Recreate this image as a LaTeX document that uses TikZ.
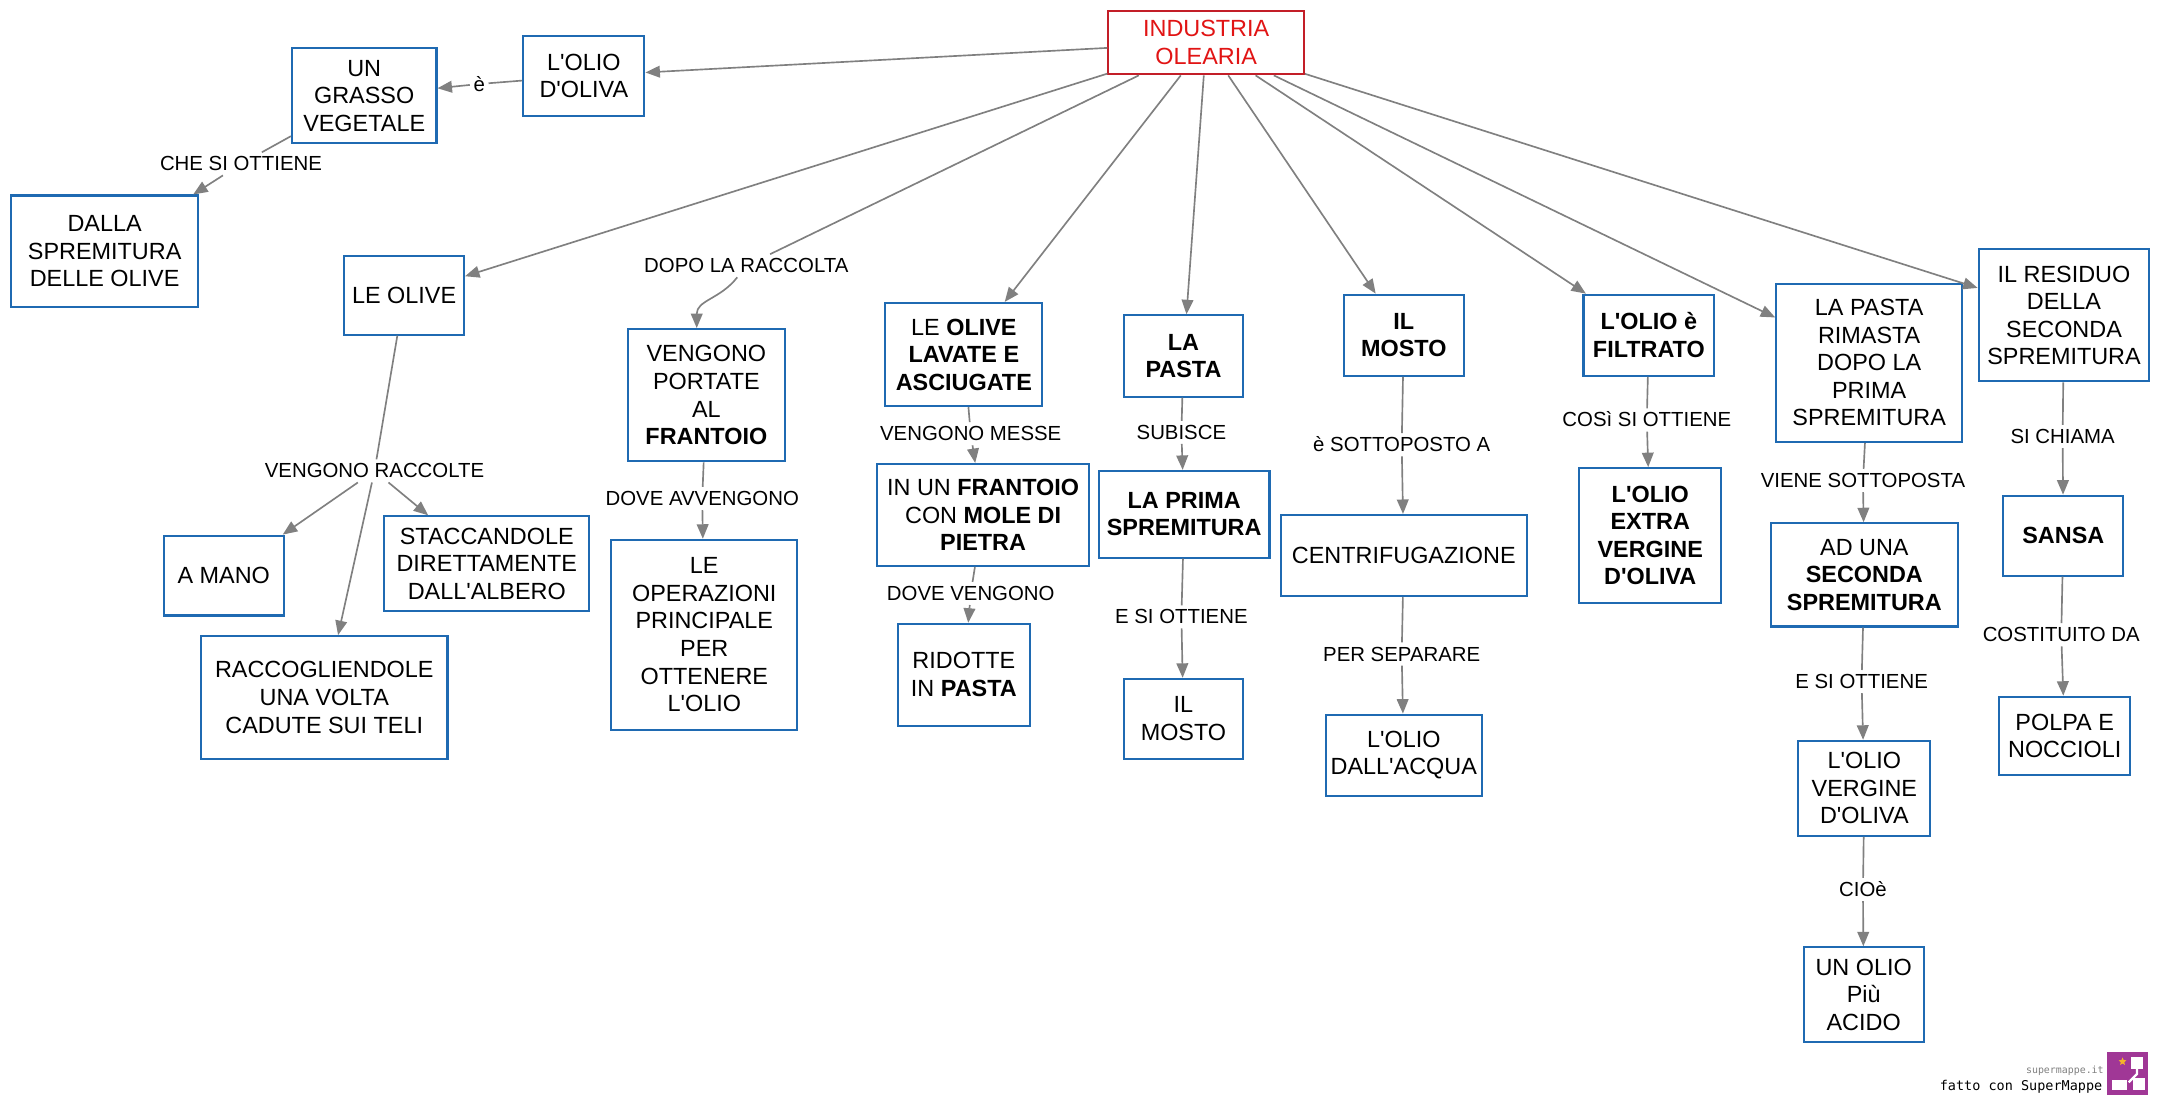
\documentclass[tikz,border=0pt]{standalone}
\usepackage{fontspec}
\setmainfont{Liberation Sans}[Ligatures=TeXOff]
\newfontfamily\smmono{DejaVu Sans Mono}
\usetikzlibrary{arrows.meta,shapes.geometric}
\definecolor{boxblue}{RGB}{31,106,178}
\definecolor{conngray}{RGB}{128,128,128}
\definecolor{indred}{RGB}{195,30,40}
\definecolor{indtext}{RGB}{225,20,20}
\definecolor{smpurple}{RGB}{160,55,150}
\definecolor{smstarc}{RGB}{245,180,40}
\begin{document}
\begin{tikzpicture}[x=1pt,y=-1pt,
  cbox/.style={draw=boxblue, line width=1.5pt, fill=white, align=center, inner sep=0pt,
               font=\fontsize{17}{20}\selectfont},
  wh/.style 2 args={minimum width=#1pt, minimum height=#2pt},
  lbl/.style={inner sep=2.5pt, font=\fontsize{14.8}{17}\selectfont, text height=10.8pt, text depth=0.6pt},
  conn/.style={draw=conngray, line width=1.2pt},
  arr/.style={conn, -{Triangle[length=10.5pt,width=8.5pt]}}
]
\fill[white] (0,0) rectangle (1568,801.8);
\useasboundingbox (0,0) rectangle (1568,801.8);

% boxes
\node[cbox, wh={142}{46}, draw=indred, text=indtext] (ind) at (876,31) {INDUSTRIA\\OLEARIA};
\node[cbox, wh={88}{58}] (oliva) at (424,55) {L'OLIO\\D'OLIVA};
\node[cbox, wh={105}{69}] (grasso) at (264.5,69.5) {UN\\GRASSO\\VEGETALE};
\node[cbox, wh={136}{81}] (dalla) at (76,182.5) {DALLA\\SPREMITURA\\DELLE OLIVE};
\node[cbox, wh={87}{57}] (olive) at (293.5,214.5) {LE OLIVE};
\node[cbox, wh={87}{58}] (amano) at (162.5,418) {A MANO};
\node[cbox, wh={149}{69}] (stacc) at (353.5,409.5) {STACCANDOLE\\DIRETTAMENTE\\DALL'ALBERO};
\node[cbox, wh={179}{89}] (racc) at (235.5,506.5) {RACCOGLIENDOLE\\UNA VOLTA\\CADUTE SUI TELI};
\node[cbox, wh={114}{96}] (portate) at (513,287) {VENGONO\\PORTATE\\AL\\\textbf{FRANTOIO}};
\node[cbox, wh={135}{138}] (operaz) at (511.5,461) {LE\\OPERAZIONI\\PRINCIPALE\\PER\\OTTENERE\\L'OLIO};
\node[cbox, wh={114}{75}] (lavate) at (700,257.5) {LE \textbf{OLIVE}\\\textbf{LAVATE E}\\\textbf{ASCIUGATE}};
\node[cbox, wh={154}{74}] (frant) at (714,374) {IN UN \textbf{FRANTOIO}\\CON \textbf{MOLE DI}\\\textbf{PIETRA}};
\node[cbox, wh={96}{74}] (ridotte) at (700,490) {RIDOTTE\\IN \textbf{PASTA}};
\node[cbox, wh={87}{59}] (pasta) at (859.5,258.5) {\textbf{LA}\\\textbf{PASTA}};
\node[cbox, wh={124}{63}] (prima) at (860,373.5) {\textbf{LA PRIMA}\\\textbf{SPREMITURA}};
\node[cbox, wh={87}{58}] (mosto2) at (859.5,522) {IL\\MOSTO};
\node[cbox, wh={87}{59}] (mosto) at (1019.5,243.5) {\textbf{IL}\\\textbf{MOSTO}};
\node[cbox, wh={179}{59}] (centr) at (1019.5,403.5) {CENTRIFUGAZIONE};
\node[cbox, wh={113}{59}] (acqua) at (1019.5,548.5) {L'OLIO\\DALL'ACQUA};
\node[cbox, wh={95}{59}] (filtr) at (1197.5,243.5) {\textbf{L'OLIO è}\\\textbf{FILTRATO}};
\node[cbox, wh={103}{98}] (extra) at (1198.5,389) {\textbf{L'OLIO}\\\textbf{EXTRA}\\\textbf{VERGINE}\\\textbf{D'OLIVA}};
\node[cbox, wh={135}{115}] (rimasta) at (1357.5,263.5) {LA PASTA\\RIMASTA\\DOPO LA\\PRIMA\\SPREMITURA};
\node[cbox, wh={136}{75}] (seconda) at (1354,417.5) {AD UNA\\\textbf{SECONDA}\\\textbf{SPREMITURA}};
\node[cbox, wh={96}{69}] (vergine) at (1354,572.5) {L'OLIO\\VERGINE\\D'OLIVA};
\node[cbox, wh={87}{69}] (acido) at (1353.5,722.5) {UN OLIO\\Più\\ACIDO};
\node[cbox, wh={124}{96}] (residuo) at (1499,229) {IL RESIDUO\\DELLA\\SECONDA\\SPREMITURA};
\node[cbox, wh={87}{58}] (sansa) at (1498.5,389) {\textbf{SANSA}};
\node[cbox, wh={95}{57}] (polpa) at (1499.5,534.5) {POLPA E\\NOCCIOLI};

% labels
\node[lbl] (le) at (348,61) {è};
\node[lbl] (che) at (175,119) {CHE SI OTTIENE};
\node[lbl] (dopo) at (542,193) {DOPO LA RACCOLTA};
\node[lbl] (raccolte) at (272,342) {VENGONO RACCOLTE};
\node[lbl] (avvengono) at (510,362) {DOVE AVVENGONO};
\node[lbl] (messe) at (705,315) {VENGONO MESSE};
\node[lbl] (dovev) at (705,431) {DOVE VENGONO};
\node[lbl] (subisce) at (858,314) {SUBISCE};
\node[lbl] (esia) at (858,448) {E SI OTTIENE};
\node[lbl] (sottoposto) at (1018,323) {è SOTTOPOSTO A};
\node[lbl] (separare) at (1018,475) {PER SEPARARE};
\node[lbl] (cosi) at (1196,305) {COSì SI OTTIENE};
\node[lbl] (viene) at (1353,349) {VIENE SOTTOPOSTA};
\node[lbl] (esib) at (1352,495) {E SI OTTIENE};
\node[lbl] (cioe) at (1353,646) {CIOè};
\node[lbl] (chiama) at (1498,317) {SI CHIAMA};
\node[lbl] (costituito) at (1497,461) {COSTITUITO DA};

% connectors
\draw[arr] (ind) -- (oliva);
\draw[conn] (oliva) -- (le);
\draw[arr] (le) -- (grasso);
\draw[conn] (grasso) -- (che);
\draw[arr] (che) -- (dalla);
\draw[arr] (ind) -- (olive);
\draw[conn] (olive) -- (raccolte);
\draw[arr] (raccolte) -- (amano);
\draw[arr] (raccolte) -- (stacc);
\draw[arr] (raccolte) -- (racc);
\draw[conn] (ind) -- (dopo);
\draw[arr] (dopo) to[out=-128,in=90,looseness=1.1] ([xshift=-7pt]portate.north);
\draw[conn] (portate) -- (avvengono);
\draw[arr] (avvengono) -- (operaz);
\draw[arr] (ind) -- (lavate);
\draw[conn] (lavate) -- (messe);
\draw[arr] (messe) -- (frant);
\draw[conn] (frant) -- (dovev);
\draw[arr] (dovev) -- (ridotte);
\draw[arr] (ind) -- (pasta);
\draw[conn] (pasta) -- (subisce);
\draw[arr] (subisce) -- (prima);
\draw[conn] (prima) -- (esia);
\draw[arr] (esia) -- (mosto2);
\draw[arr] (ind) -- (mosto);
\draw[conn] (mosto) -- (sottoposto);
\draw[arr] (sottoposto) -- (centr);
\draw[conn] (centr) -- (separare);
\draw[arr] (separare) -- (acqua);
\draw[arr] (ind) -- (filtr);
\draw[conn] (filtr) -- (cosi);
\draw[arr] (cosi) -- (extra);
\draw[arr] (ind) -- (rimasta);
\draw[conn] (rimasta) -- (viene);
\draw[arr] (viene) -- (seconda);
\draw[conn] (seconda) -- (esib);
\draw[arr] (esib) -- (vergine);
\draw[conn] (vergine) -- (cioe);
\draw[arr] (cioe) -- (acido);
\draw[arr] (ind) -- (residuo);
\draw[conn] (residuo) -- (chiama);
\draw[arr] (chiama) -- (sansa);
\draw[conn] (sansa) -- (costituito);
\draw[arr] (costituito) -- (polpa);

% footer
\node[font=\smmono\fontsize{7.2}{8}\selectfont, text=gray, anchor=east, inner sep=0pt] (smurl) at (1528,778) {supermappe.it};
\node[font=\smmono\fontsize{9.8}{11}\selectfont, anchor=east, inner sep=0pt] (smfatto) at (1527,789) {fatto con SuperMappe};
\fill[smpurple] (1530,764) rectangle (1560,795);
\fill[white] (1548,767.5) rectangle (1556.5,776.5);
\fill[white] (1533.5,784) rectangle (1545,791.5);
\fill[white] (1549,783) rectangle (1558,791.5);
\draw[white, line width=1.6pt] (1552,776.5) -- (1552,780) -- (1546,786);
\node[star, star points=5, star point ratio=2.2, fill=smstarc, minimum size=6pt, inner sep=0pt] (smstar) at (1541.5,771) {};
\end{tikzpicture}
\end{document}
